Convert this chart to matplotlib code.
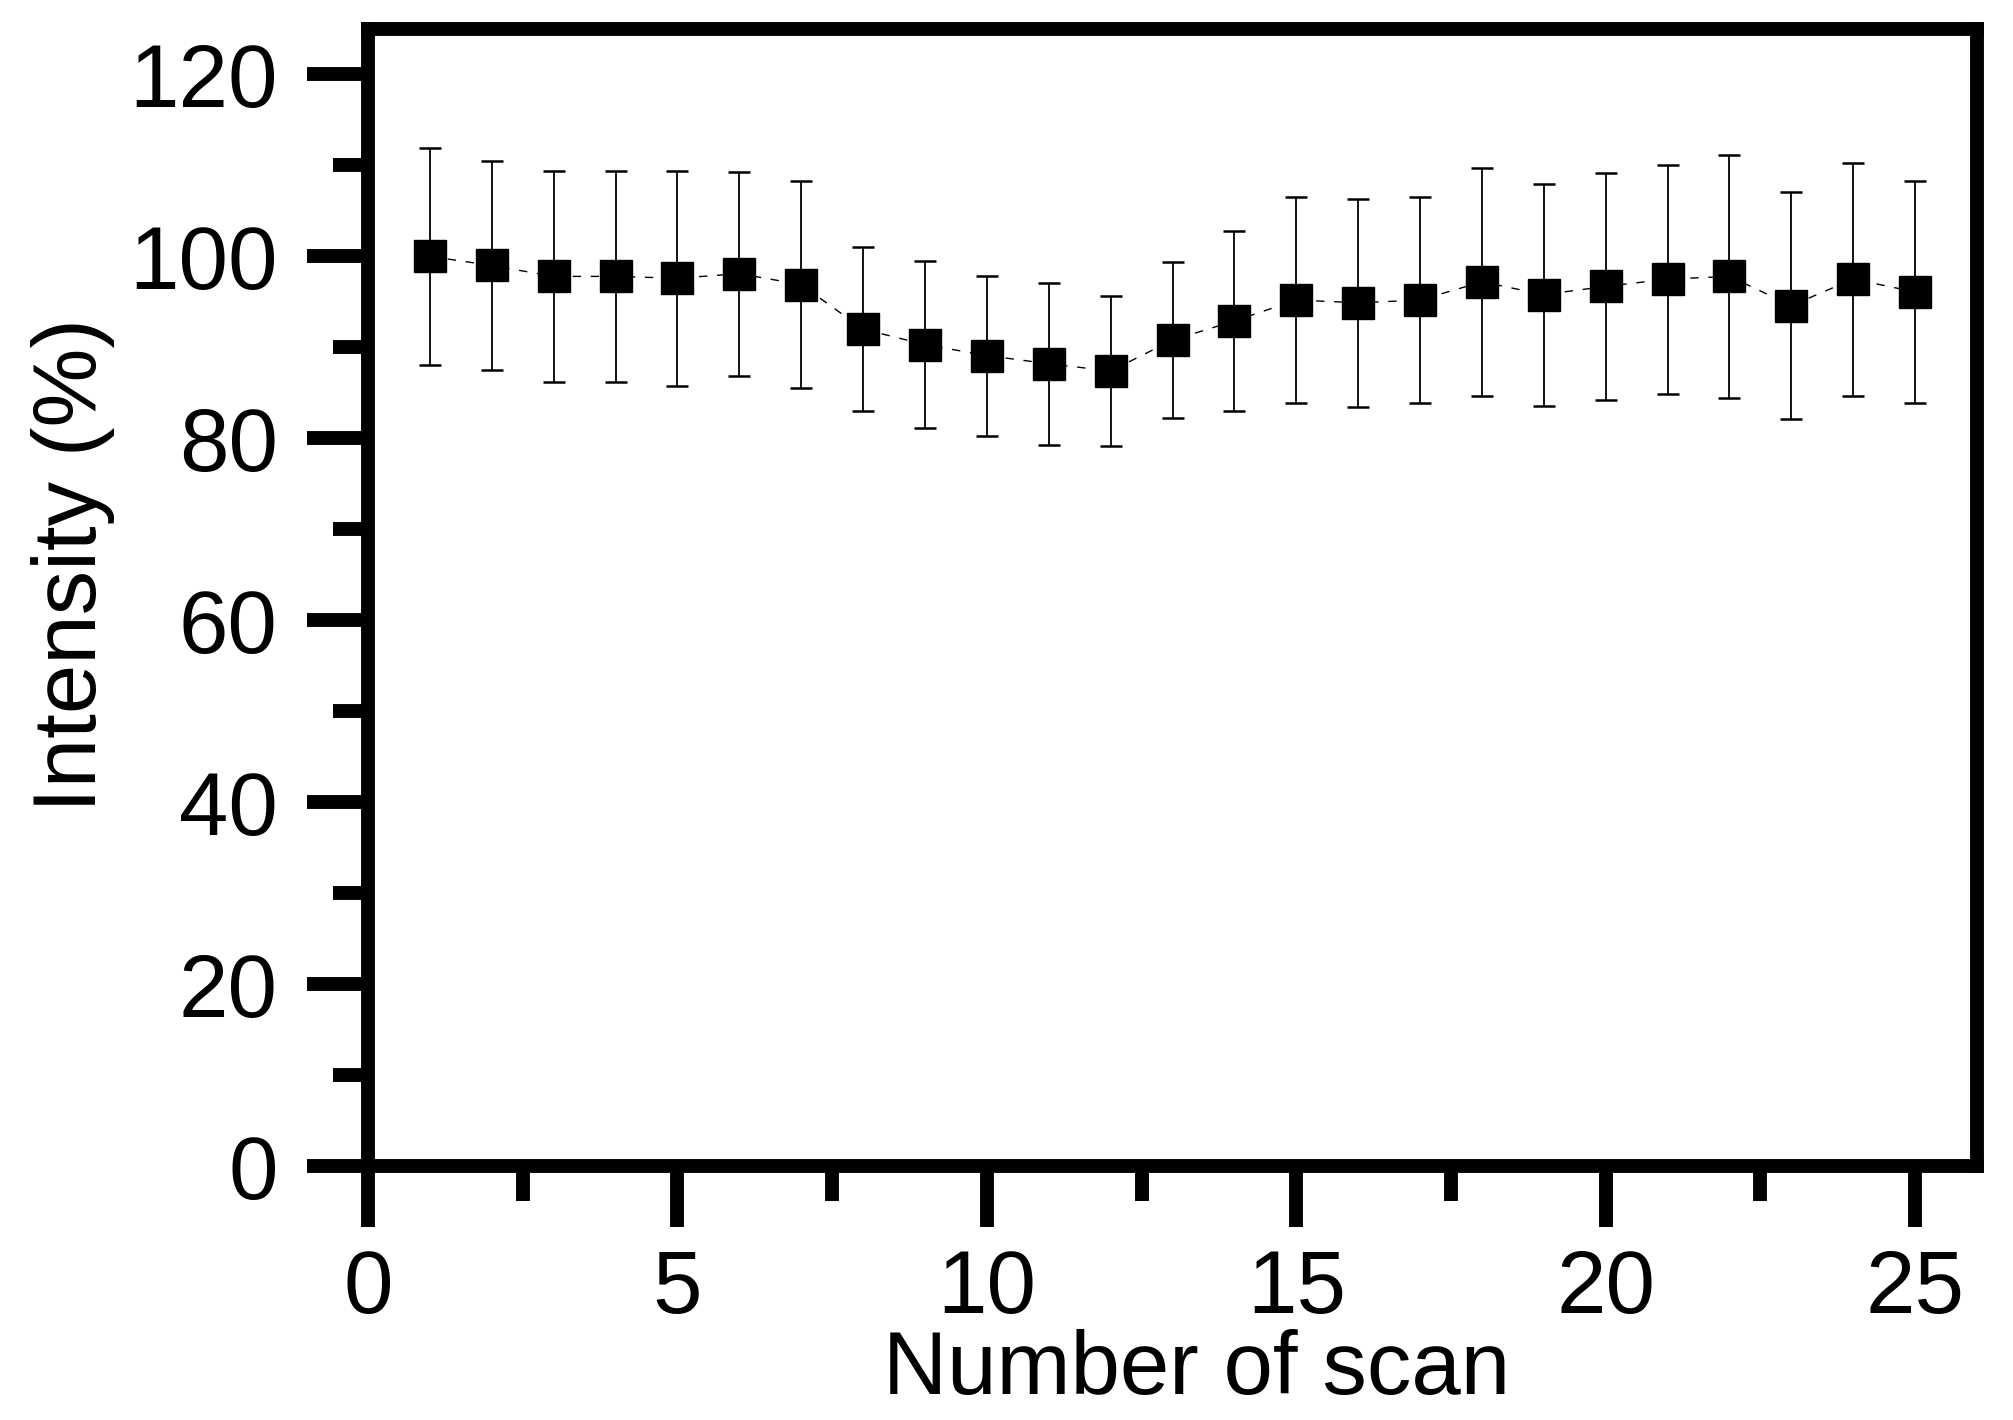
import matplotlib
matplotlib.use("Agg")
import matplotlib.pyplot as plt
from matplotlib.ticker import MultipleLocator

scans = list(range(1, 26))
intensity = [100.0, 99.0, 97.8, 97.8, 97.6, 98.1, 96.9, 92.0, 90.3, 89.1, 88.2, 87.4, 90.8,
             92.9, 95.2, 94.9, 95.2, 97.2, 95.8, 96.7, 97.5, 97.8, 94.6, 97.5, 96.1]
errors = [11.9, 11.5, 11.6, 11.6, 11.8, 11.2, 11.4, 9.0, 9.2, 8.8, 8.9, 8.25, 8.55,
          9.85, 11.35, 11.45, 11.35, 12.5, 12.2, 12.5, 12.6, 13.4, 12.5, 12.8, 12.2]

plt.rcParams['font.family'] = ['Liberation Sans', 'DejaVu Sans']

fig = plt.figure(figsize=(20.13, 14.2), dpi=100)
ax = fig.add_axes([368/2013, 1-1166/1420, 1609/2013, 1137/1420])

ax.errorbar(scans, intensity, yerr=errors, fmt='s', color='black',
            markersize=23, ecolor='black', elinewidth=1.3, capsize=8, capthick=1.8,
            linestyle=(0, (6, 7)), linewidth=1.0, zorder=3)

ax.set_xlim(0, 26)
ax.set_ylim(0, 125)
ax.xaxis.set_major_locator(MultipleLocator(5))
ax.xaxis.set_minor_locator(MultipleLocator(2.5))
ax.yaxis.set_major_locator(MultipleLocator(20))
ax.yaxis.set_minor_locator(MultipleLocator(10))

for s in ax.spines.values():
    s.set_linewidth(10)
    s.set_capstyle('projecting')

ax.tick_params(axis='both', which='major', direction='out', width=10, length=44, labelsize=64)
ax.tick_params(axis='both', which='minor', direction='out', width=10, length=25)
ax.tick_params(axis='x', which='major', pad=15)
ax.tick_params(axis='y', which='major', pad=21)

ax.set_xlabel("Number of scan", fontsize=64)
ax.set_ylabel("Intensity (%)", fontsize=64)
ax.xaxis.set_label_coords(0.515, -0.1434)
ax.yaxis.set_label_coords(-0.157, 0.5286)

fig.savefig("out.png", dpi=100)
